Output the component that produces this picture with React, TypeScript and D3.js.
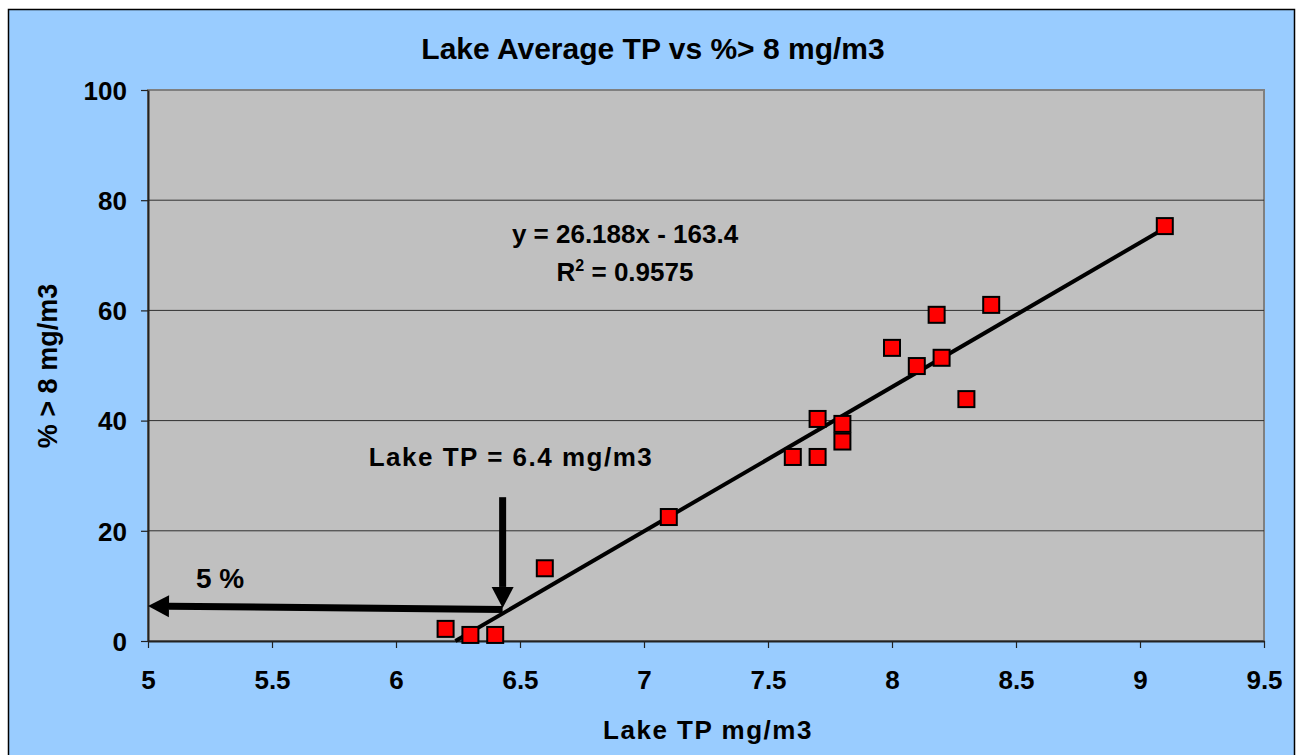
import React, { useEffect, useRef } from 'react';
import * as d3 from 'd3';

// lake average TP (mg/m3) and % of samples > 8 mg/m3
const lakeTP = [6.2, 6.3, 6.4, 6.6, 7.1, 7.6, 7.7, 7.7, 7.8, 7.8, 8.0, 8.1, 8.2, 8.18, 8.3, 8.4, 9.1];
const pctOver8 = [2.2, 1.1, 1.1, 13.2, 22.5, 33.4, 33.4, 40.3, 39.4, 36.2, 53.2, 49.9, 51.4, 59.2, 43.9, 61.0, 75.3];

const xTicks = [5, 5.5, 6, 6.5, 7, 7.5, 8, 8.5, 9, 9.5];
const yTicks = [0, 20, 40, 60, 80, 100];

// linear trend from Excel
const slope = 26.188;
const intercept = -163.4;

// annotation arrows [x1, y1, x2, y2] in data units (tail -> tip)
const arrowDown = [6.43, 26.1, 6.43, 6.0];
const arrowLeft = [6.43, 5.7, 5.0, 6.35];

const W = 1296;
const H = 755;
const plot = { left: 148, right: 1264, top: 90, bottom: 641 };
const FONT = '"Liberation Sans", Arial, sans-serif';

const App: React.FC = () => {
  const svgRef = useRef<SVGSVGElement>(null);

  useEffect(() => {
    if (!svgRef.current) return;
    const svg = d3.select(svgRef.current);
    svg.selectAll('*').remove();

    const x = d3.scaleLinear().domain([5, 9.5]).range([plot.left, plot.right]);
    const y = d3.scaleLinear().domain([0, 100]).range([plot.bottom, plot.top]);

    // chart background
    svg.append('rect')
      .attr('x', 8.5).attr('y', 9.5)
      .attr('width', 1286).attr('height', 770)
      .attr('fill', '#99CCFF')
      .attr('stroke', '#000').attr('stroke-width', 1.5);

    // plot area
    svg.append('rect')
      .attr('x', plot.left).attr('y', plot.top)
      .attr('width', plot.right - plot.left).attr('height', plot.bottom - plot.top)
      .attr('fill', '#C0C0C0')
      .attr('stroke', '#808080').attr('stroke-width', 2);

    // gridlines
    svg.append('g')
      .selectAll('line')
      .data(yTicks.filter(t => t > 0 && t < 100))
      .join('line')
      .attr('x1', plot.left).attr('x2', plot.right)
      .attr('y1', d => y(d)).attr('y2', d => y(d))
      .attr('stroke', '#303030').attr('stroke-width', 1);

    // axes
    const xAxis = svg.append('g')
      .attr('transform', `translate(0,${plot.bottom})`)
      .call(d3.axisBottom(x).tickValues(xTicks).tickSize(7).tickSizeOuter(0).tickFormat(d => String(d)));
    const yAxis = svg.append('g')
      .attr('transform', `translate(${plot.left},0)`)
      .call(d3.axisLeft(y).tickValues(yTicks).tickSize(7).tickSizeOuter(0).tickFormat(d => String(d)));

    [xAxis, yAxis].forEach(g => {
      g.select('.domain').attr('stroke', '#222').attr('stroke-width', 2);
      g.selectAll('.tick line').attr('stroke', '#222').attr('stroke-width', 1.2);
      g.selectAll('.tick text')
        .attr('font-family', FONT).attr('font-size', 26).attr('font-weight', 'bold')
        .attr('fill', '#000');
    });
    xAxis.selectAll('.tick text').attr('y', 48).attr('dy', 0);
    yAxis.selectAll('.tick text').attr('x', -21).attr('dy', '0.36em');

    // trendline
    const xStart = -intercept / slope;
    const xEnd = d3.max(lakeTP) as number;
    svg.append('line')
      .attr('x1', x(xStart)).attr('y1', y(slope * xStart + intercept))
      .attr('x2', x(xEnd)).attr('y2', y(slope * xEnd + intercept))
      .attr('stroke', '#000').attr('stroke-width', 4);

    // points
    const pts = lakeTP.map((v, i) => ({ tp: v, pct: pctOver8[i] }));
    svg.append('g')
      .selectAll('rect')
      .data(pts)
      .join('rect')
      .attr('x', d => x(d.tp) - 8).attr('y', d => y(d.pct) - 8)
      .attr('width', 16).attr('height', 16)
      .attr('fill', '#FF0000')
      .attr('stroke', '#000').attr('stroke-width', 2);

    // arrows
    const drawArrow = (a: number[]) => {
      const x1 = x(a[0]), y1 = y(a[1]), x2 = x(a[2]), y2 = y(a[3]);
      const ang = Math.atan2(y2 - y1, x2 - x1);
      const headLen = 21, headW = 11;
      const bx = x2 - headLen * Math.cos(ang), by = y2 - headLen * Math.sin(ang);
      svg.append('line')
        .attr('x1', x1).attr('y1', y1).attr('x2', bx).attr('y2', by)
        .attr('stroke', '#000').attr('stroke-width', 7);
      const px = -Math.sin(ang) * headW, py = Math.cos(ang) * headW;
      svg.append('path')
        .attr('d', `M${x2},${y2}L${bx + px},${by + py}L${bx - px},${by - py}Z`)
        .attr('fill', '#000');
    };
    drawArrow(arrowDown);
    drawArrow(arrowLeft);

    const txt = (s: string, tx: number, ty: number, size: number, extra?: (t: any) => void) => {
      const t = svg.append('text')
        .attr('x', tx).attr('y', ty)
        .attr('text-anchor', 'middle')
        .attr('font-family', FONT).attr('font-size', size).attr('font-weight', 'bold')
        .attr('fill', '#000')
        .text(s);
      if (extra) extra(t);
      return t;
    };

    // title + axis titles
    txt('Lake Average TP vs %> 8 mg/m3', 653, 59, 30);
    txt('Lake TP mg/m3', 708, 739, 26, t => t.attr('letter-spacing', 1.5));
    svg.append('text')
      .attr('transform', `translate(57,366) rotate(-90)`)
      .attr('text-anchor', 'middle')
      .attr('font-family', FONT).attr('font-size', 27).attr('font-weight', 'bold')
      .text('% > 8 mg/m3');

    // annotations
    txt('Lake TP = 6.4 mg/m3', 511, 466, 26, t => t.attr('letter-spacing', 1.5));
    txt('5 %', 220, 588, 28);
    txt('y = 26.188x - 163.4', 625, 243, 26);
    const r2 = txt('R', 625, 281, 26);
    r2.text(null);
    r2.append('tspan').text('R');
    r2.append('tspan').attr('font-size', 16).attr('dy', -10).text('2');
    r2.append('tspan').attr('dy', 10).text(' = 0.9575');
  }, []);

  return (
    <svg ref={svgRef} width={W} height={H}
      style={{ position: 'absolute', left: 0, top: 0, background: '#fff' }} />
  );
};

export default App;
